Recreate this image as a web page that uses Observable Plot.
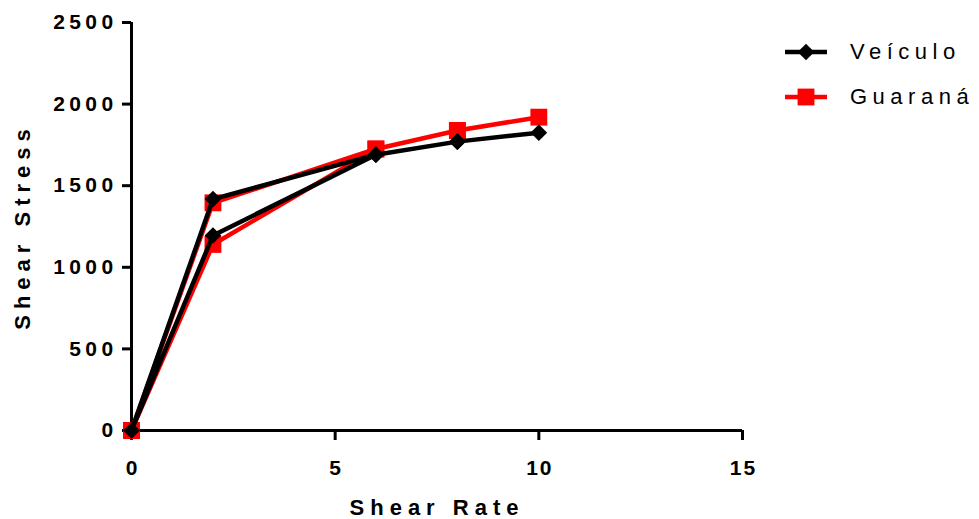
<!DOCTYPE html>
<html>
<head>
<meta charset="utf-8">
<script src="https://cdn.jsdelivr.net/npm/d3@7"></script>
<script src="https://cdn.jsdelivr.net/npm/@observablehq/plot@0.6"></script>
<style>
  body { margin: 0; background: #fff; font-family: "Liberation Sans", Arial, sans-serif; }
  #chart { position: relative; width: 979px; height: 519px; }
  .legend { position: absolute; left: 783px; top: 29px; }
  .legend .item { display: flex; align-items: center; height: 45px; }
  .legend .item span { font-size: 22px; letter-spacing: 5.5px; margin-left: 21px; color: #000; }
</style>
</head>
<body>
<div id="chart"></div>
<script>
// Shear rate sweep (up then down) and measured shear stress per formulation
const shearRate = [0, 2, 6, 8, 10, 8, 6, 2, 0];
const veiculo   = [0, 1418, 1690, 1770, 1825, 1770, 1690, 1195, 0];
const guarana   = [0, 1395, 1725, 1838, 1920, 1838, 1725, 1140, 0];

const seriesNames   = ["Veículo", "Guaraná"];
const seriesValues  = [veiculo, guarana];
const seriesColors  = ["#000000", "#ff0000"];
const seriesSymbols = ["diamond2", "square"];
const seriesRadius  = [7.5, 9.5];

const xTicks = [0, 5, 10, 15];
const yTicks = [0, 500, 1000, 1500, 2000, 2500];
const xTitle = "Shear Rate";
const yTitle = "Shear Stress";

const series = seriesNames.map((name, i) => ({
  name,
  color: seriesColors[i],
  symbol: seriesSymbols[i],
  r: seriesRadius[i],
  rows: shearRate.map((x, j) => ({x, y: seriesValues[i][j]}))
}));

// draw Guaraná underneath, Veículo on top
const seriesMarks = series.slice().reverse().flatMap(s => [
  Plot.line(s.rows, {x: "x", y: "y", stroke: s.color, strokeWidth: 4.5, strokeLinejoin: "miter"}),
  Plot.dot(s.rows, {x: "x", y: "y", fill: s.color, stroke: "none", symbol: s.symbol, r: s.r})
]);

// text marks in drawing order, with the letter spacing each one uses
const textSpacing = [4.4, 2, 6, 6];

const svg = Plot.plot({
  width: 979,
  height: 519,
  marginLeft: 131,
  marginRight: 237,
  marginTop: 22,
  marginBottom: 89,
  style: {fontFamily: "'Liberation Sans', Arial, sans-serif", color: "#000", background: "#fff"},
  x: {domain: [0, 15]},
  y: {domain: [0, 2500]},
  marks: [
    // tick marks only; labels are drawn as text marks below
    Plot.axisY({ticks: yTicks, tickSize: 9, text: null, label: null, strokeWidth: 3}),
    Plot.axisX({ticks: xTicks, tickSize: 10, text: null, label: null, strokeWidth: 3}),
    Plot.text(yTicks, {x: 0, y: d => d, text: d => String(d), dx: -14, textAnchor: "end",
      fontSize: 21, fontWeight: "bold"}),
    Plot.text(xTicks, {x: d => d, y: 0, text: d => String(d), dy: 38, dx: 1, textAnchor: "middle",
      lineAnchor: "middle", fontSize: 21, fontWeight: "bold"}),
    Plot.ruleX([0], {strokeWidth: 3}),
    Plot.ruleY([0], {strokeWidth: 3}),
    Plot.text([yTitle], {frameAnchor: "left", dx: -109, rotate: -90, text: d => d,
      fontSize: 22, fontWeight: "bold", textAnchor: "middle"}),
    Plot.text([xTitle], {frameAnchor: "bottom", dy: 77, text: d => d,
      fontSize: 22, fontWeight: "bold", textAnchor: "middle", lineAnchor: "middle"}),
    ...seriesMarks
  ]
});

// tick strokes and letter spacing of the text marks
const root = d3.select(svg);
root.selectAll('g[aria-label="y-axis tick"], g[aria-label="x-axis tick"]').attr("stroke-width", 3);
root.selectAll('g[aria-label="text"]').each(function(_, i) {
  d3.select(this).selectAll("text").style("letter-spacing", `${textSpacing[i]}px`);
});

const chart = document.getElementById("chart");
chart.appendChild(svg);

// legend: line swatch with marker, then series name
const legend = document.createElement("div");
legend.className = "legend";
series.forEach(s => {
  const item = document.createElement("div");
  item.className = "item";
  const sw = d3.create("svg").attr("width", 46).attr("height", 24);
  sw.append("line").attr("x1", 2).attr("x2", 44).attr("y1", 12).attr("y2", 12)
    .attr("stroke", s.color).attr("stroke-width", 4.5);
  const sym = s.symbol === "square" ? d3.symbolSquare : d3.symbolDiamond2;
  sw.append("path").attr("transform", "translate(23,12)")
    .attr("d", d3.symbol(sym, s.r * s.r * Math.PI)())
    .attr("fill", s.color);
  item.appendChild(sw.node());
  const label = document.createElement("span");
  label.textContent = s.name;
  item.appendChild(label);
  legend.appendChild(item);
});
chart.appendChild(legend);
</script>
</body>
</html>
